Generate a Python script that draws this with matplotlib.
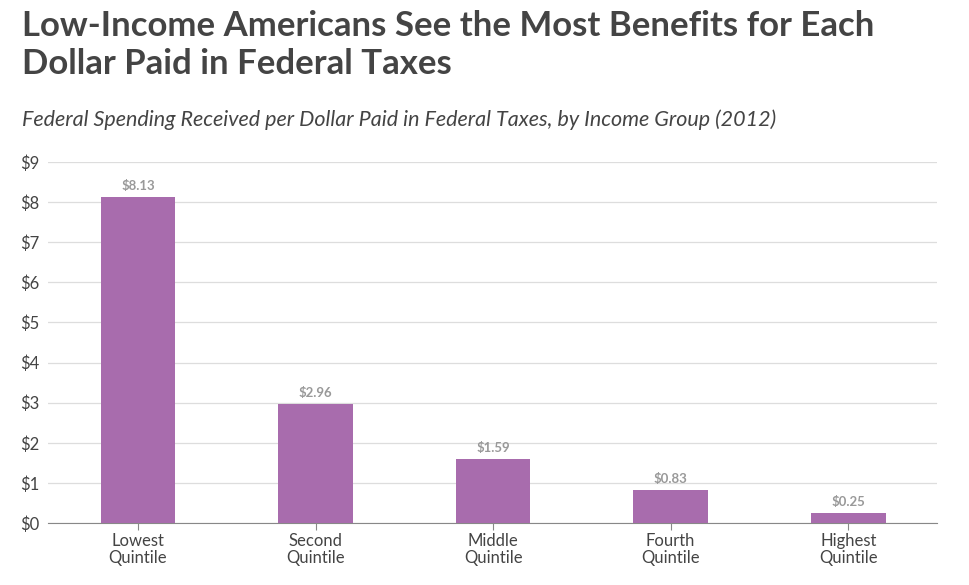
import matplotlib
matplotlib.use("Agg")
import matplotlib.pyplot as plt

categories = ["Lowest\nQuintile", "Second\nQuintile", "Middle\nQuintile", "Fourth\nQuintile", "Highest\nQuintile"]
values = [8.13, 2.96, 1.59, 0.83, 0.25]
yticks = list(range(0, 10))

plt.rcParams['font.family'] = ['Lato', 'DejaVu Sans']
fig = plt.figure(figsize=(9.69, 5.85), dpi=100)
W, H = 969, 585
ax = fig.add_axes([48/W, 1-523/H, (937-48)/W, (523-162)/H])
x = list(range(len(values)))
ax.bar(x, values, width=0.42, color="#a86cad", zorder=3)
for xi, v in zip(x, values):
    ax.text(xi, v + 0.12, f"${v:.2f}", ha="center", va="bottom", fontsize=9.5,
            fontweight="bold", color="#999999")
ax.set_xlim(-0.507, 4.5)
ax.set_ylim(0, 9)
ax.set_yticks(yticks)
ax.set_yticklabels([f"${t}" for t in yticks], fontsize=12, color="#444444")
ax.set_xticks(x)
ax.set_xticklabels(categories, fontsize=12, color="#444444", linespacing=1.1)
ax.grid(axis="y", color="#dddddd", linewidth=0.9, zorder=0)
for s in ["top", "right", "left"]:
    ax.spines[s].set_visible(False)
ax.spines["bottom"].set_color("#888888")
ax.tick_params(axis="y", length=0, pad=6)
ax.tick_params(axis="x", length=5, color="#888888", pad=2)

fig.text(22/W, 1-10/H, "Low-Income Americans See the Most Benefits for Each\nDollar Paid in Federal Taxes",
         fontsize=25, fontweight="bold", color="#444444", va="top", ha="left", linespacing=1.25)
fig.text(22/W, 1-120/H, "Federal Spending Received per Dollar Paid in Federal Taxes, by Income Group (2012)",
         fontsize=15.5, style="italic", color="#444444", va="center", ha="left")
fig.savefig("out.png", dpi=100, facecolor="white")
